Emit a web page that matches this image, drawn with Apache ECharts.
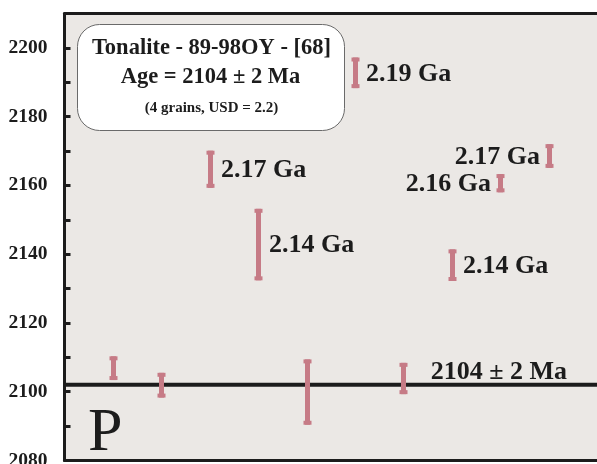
<!DOCTYPE html>
<html>
<head>
<meta charset="utf-8">
<style>
html,body{margin:0;padding:0;background:#ffffff;}
#chart{width:597px;height:464px;}
</style>
<script src="https://cdn.jsdelivr.net/npm/echarts@6/dist/echarts.min.js"></script>
</head>
<body>
<div id="chart"></div>
<script>
// ---- data ----
const grainX = [1, 2, 3, 4, 5, 6, 7, 8, 9, 10];
const ageLow  = [2103.4, 2098.3, 2159.3, 2132.4, 2090.4, 2188.3, 2099.3, 2132.2, 2158.0, 2165.1];
const ageHigh = [2110.3, 2105.5, 2170.1, 2153.2, 2109.4, 2197.2, 2108.4, 2141.4, 2163.3, 2172.0];
const grainLabels = ['', '', '2.17 Ga', '2.14 Ga', '', '2.19 Ga', '', '2.14 Ga', '2.16 Ga', '2.17 Ga'];
const labelSide   = ['', '', 'right', 'right', '', 'right', '', 'right', 'left', 'left'];
const meanAge = 2102;
const meanLabel = '2104 \u00b1 2 Ma';
const yTicks = [2080, 2100, 2120, 2140, 2160, 2180, 2200];
const titleLines = ['Tonalite - 89-98OY - [68]', 'Age = 2104 \u00b1 2 Ma', '(4 grains, USD = 2.2)'];
const panelLetter = 'P';

const barColor = '#c67b86';
const inkColor = '#1c1c1c';
const serif = '"Liberation Serif", "Times New Roman", serif';

const chart = echarts.init(document.getElementById('chart'), null, {renderer: 'canvas'});

const errData = grainX.map((x, i) => [x, ageLow[i], ageHigh[i], i]);

const option = {
  animation: false,
  backgroundColor: '#ffffff',
  grid: {
    left: 64.5, right: 0, top: 13.5, bottom: 3.5,
    containLabel: false, outerBoundsMode: 'none',
    show: true, backgroundColor: '#ebe8e5', borderWidth: 0
  },
  xAxis: [
    {
      type: 'value', min: 0, max: 11, position: 'bottom',
      axisLine: {show: true, onZero: false, lineStyle: {color: inkColor, width: 3}},
      axisTick: {show: false}, axisLabel: {show: false}, splitLine: {show: false}
    },
    {
      type: 'value', min: 0, max: 11, position: 'top',
      axisLine: {show: true, onZero: false, lineStyle: {color: inkColor, width: 3}},
      axisTick: {show: false}, axisLabel: {show: false}, splitLine: {show: false}
    }
  ],
  yAxis: {
    type: 'value', min: 2080, max: 2210, interval: 10,
    axisLine: {show: true, lineStyle: {color: inkColor, width: 3}},
    axisTick: {show: true, inside: true, length: 6, lineStyle: {color: inkColor, width: 3}},
    splitLine: {show: false},
    axisLabel: {
      margin: 17,
      color: inkColor,
      verticalAlign: 'middle',
      fontFamily: serif, fontWeight: 'bold', fontSize: 19.5,
      formatter: v => (yTicks.indexOf(v) >= 0 ? String(v) : '')
    }
  },
  graphic: [
    {
      type: 'group', left: 77, top: 24, z: 100,
      children: [
        {type: 'rect', shape: {x: 0, y: 0, width: 267, height: 106, r: 22},
         style: {fill: '#ffffff', stroke: '#6a6a6a', lineWidth: 1}},
        {type: 'text', style: {text: titleLines[0], x: 134, y: 24, align: 'center', verticalAlign: 'middle',
          font: 'bold 22.5px ' + serif, fill: inkColor}},
        {type: 'text', style: {text: titleLines[1], x: 133, y: 53, align: 'center', verticalAlign: 'middle',
          font: 'bold 22.5px ' + serif, fill: inkColor}},
        {type: 'text', style: {text: titleLines[2], x: 134, y: 84, align: 'center', verticalAlign: 'middle',
          font: 'bold 15px ' + serif, fill: inkColor}}
      ]
    },
    {
      type: 'text', left: 88, top: 403, z: 100,
      style: {text: panelLetter, font: '62px ' + serif, fill: inkColor}
    }
  ],
  series: [
    {
      type: 'line',
      xAxisIndex: 0,
      data: [
        {value: [0, meanAge]},
        {value: [11, meanAge],
         label: {show: true, position: 'left', distance: 30, offset: [0, -13],
                 formatter: meanLabel, color: inkColor,
                 fontFamily: serif, fontWeight: 'bold', fontSize: 26}}
      ],
      symbol: 'circle', symbolSize: 0, showSymbol: true,
      lineStyle: {color: inkColor, width: 4},
      z: 3
    },
    {
      type: 'custom',
      xAxisIndex: 0,
      data: errData,
      encode: {x: 0, y: [1, 2]},
      z: 5,
      renderItem: function (params, api) {
        const x = api.value(0), lo = api.value(1), hi = api.value(2), idx = api.value(3);
        const pTop = api.coord([x, hi]);
        const pBot = api.coord([x, lo]);
        const cx = Math.round(pTop[0]);
        const stemW = 5, capW = 8, capH = 4;
        const children = [
          {type: 'rect', shape: {x: cx - 2, y: pTop[1], width: stemW, height: pBot[1] - pTop[1]},
           style: {fill: barColor}},
          {type: 'rect', shape: {x: cx - 3.5, y: pTop[1], width: capW, height: capH},
           style: {fill: barColor}},
          {type: 'rect', shape: {x: cx - 3.5, y: pBot[1] - capH, width: capW, height: capH},
           style: {fill: barColor}}
        ];
        const txt = grainLabels[idx];
        if (txt) {
          const right = labelSide[idx] === 'right';
          children.push({
            type: 'text',
            style: {
              text: txt,
              x: right ? cx + 11 : cx - 9,
              y: (pTop[1] + pBot[1]) / 2 + 1,
              align: right ? 'left' : 'right',
              verticalAlign: 'middle',
              font: 'bold 26px ' + serif,
              fill: inkColor
            }
          });
        }
        return {type: 'group', children: children};
      }
    }
  ]
};

chart.setOption(option);
</script>
</body>
</html>
